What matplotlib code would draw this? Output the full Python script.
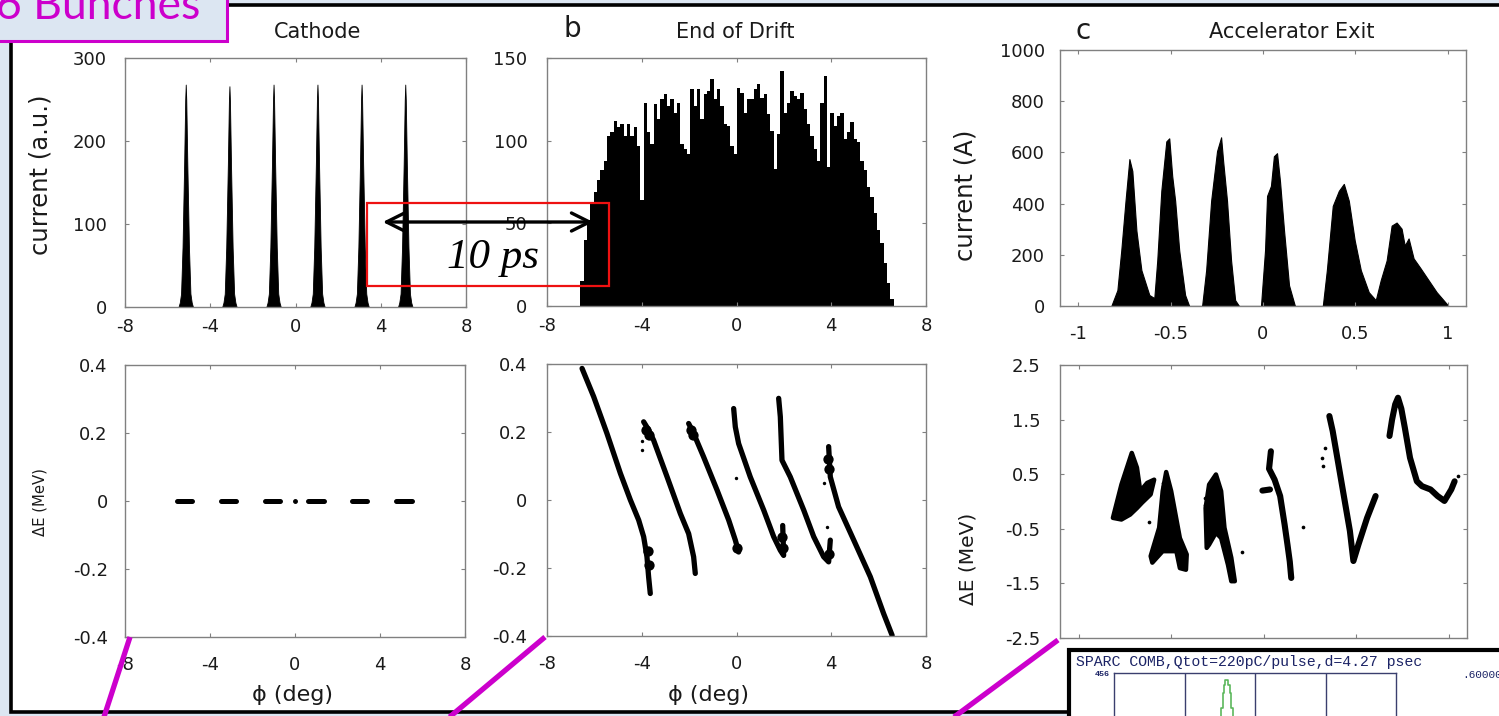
import numpy as np
import matplotlib
matplotlib.use("Agg")
import matplotlib.pyplot as plt
from matplotlib.patches import Rectangle, FancyArrowPatch
from matplotlib.lines import Line2D
from matplotlib.ticker import FuncFormatter

plt.rcParams['font.family'] = ['DejaVu Sans']
plt.rcParams['axes.unicode_minus'] = False

# ---- panel a: cathode ----
cathode_centers = [-5.15, -3.10, -1.03, 1.03, 3.10, 5.15]
cathode_peaks = [268, 266, 268, 268, 268, 268]
spike_offset = [-0.34, -0.28, -0.22, -0.15, -0.075, -0.025, 0.0, 0.025, 0.075, 0.15, 0.22, 0.28, 0.34]
spike_shape = [0.0, 0.02, 0.06, 0.27, 0.64, 0.93, 1.0, 0.93, 0.64, 0.27, 0.06, 0.02, 0.0]

dash_centers = [-5.19, -3.13, -1.05, 0.99, 3.05, 5.13]
dash_half = 0.36
dot_phi = [-0.01]

# ---- panel b: end of drift ----
drift_current = [15, 40, 52, 62, 69, 76, 82, 88, 103, 105,
                 112, 108, 110, 103, 110, 103, 108, 97, 64, 123,
                 105, 98, 122, 113, 125, 128, 121, 125, 117, 123,
                 98, 95, 92, 131, 121, 131, 113, 128, 130, 137,
                 125, 131, 121, 110, 109, 97, 92, 132, 129, 117,
                 125, 125, 131, 134, 126, 128, 116, 106, 83, 104,
                 142, 117, 123, 130, 127, 125, 129, 119, 110, 103,
                 95, 88, 123, 139, 84, 117, 109, 115, 117, 101,
                 105, 111, 101, 99, 88, 82, 72, 66, 56, 46,
                 38, 26, 14, 4]
drift_lo, drift_hi = -6.59, 6.64

streak_phi = [
    [-6.52, -6.03, -5.47, -4.90, -4.48, -4.13, -3.92, -3.78, -3.71, -3.64],
    [-3.92, -3.71, -3.50, -2.93, -2.37, -2.02, -1.81, -1.74],
    [-2.02, -1.81, -1.39, -0.82, -0.33, -0.05, 0.09],
    [-0.12, -0.05, 0.09, 0.58, 1.15, 1.57, 1.85, 1.99, 1.95],
    [1.78, 1.85, 1.92, 2.27, 2.84, 3.26, 3.68, 3.89, 3.96],
    [3.89, 3.96, 4.31, 4.95, 5.65, 6.21, 6.57],
]
streak_de = [
    [0.387, 0.304, 0.196, 0.078, 0.0, -0.059, -0.108, -0.167, -0.226, -0.275],
    [0.23, 0.206, 0.176, 0.068, -0.04, -0.099, -0.167, -0.216],
    [0.225, 0.196, 0.127, 0.029, -0.059, -0.118, -0.153],
    [0.269, 0.215, 0.166, 0.068, -0.03, -0.108, -0.148, -0.163, -0.075],
    [0.299, 0.245, 0.117, 0.068, -0.03, -0.108, -0.167, -0.182, -0.118],
    [0.157, 0.068, -0.02, -0.118, -0.226, -0.334, -0.398],
]
blob_phi = [-3.80, -3.70, -1.90, -1.85, 0.02, 1.95, 1.92, 3.92, 3.88, 3.90, -3.72, -3.68]
blob_de = [0.205, 0.19, 0.205, 0.19, -0.14, -0.14, -0.11, -0.16, 0.12, 0.09, -0.15, -0.19]
stray_b_phi = [-3.99, -3.99, -0.007, 3.82, 3.71]
stray_b_de = [0.174, 0.147, 0.065, -0.079, 0.05]

# ---- panel c: accelerator exit ----
exit_phi = [-0.822, -0.789, -0.768, -0.745, -0.724, -0.708, -0.686, -0.659, -0.616, -0.589,
            -0.573, -0.551, -0.524, -0.508, -0.492, -0.476, -0.454, -0.422, -0.400,
            -0.330, -0.308, -0.281, -0.249, -0.227, -0.216, -0.195, -0.173, -0.151, -0.130,
            -0.011, 0.011, 0.022, 0.043, 0.059, 0.076, 0.092, 0.114, 0.141, 0.173,
            0.324, 0.346, 0.378, 0.411, 0.438, 0.465, 0.497, 0.530, 0.573, 0.611,
            0.638, 0.670, 0.697, 0.724, 0.751, 0.768, 0.789, 0.816, 0.854, 0.897,
            0.941, 0.978, 1.005]
exit_current = [0, 62, 217, 411, 574, 527, 295, 140, 43, 31,
                178, 450, 643, 655, 508, 411, 217, 43, 0,
                0, 140, 411, 605, 659, 566, 411, 178, 23, 0,
                0, 217, 430, 469, 585, 597, 488, 295, 81, 0,
                0, 140, 391, 450, 477, 411, 256, 140, 54, 23,
                101, 178, 314, 326, 302, 236, 264, 186, 147, 101,
                54, 23, 0]

c1_phi = [-0.814, -0.768, -0.712, -0.684, -0.666, -0.629, -0.591, -0.610, -0.656, -0.684, -0.721, -0.768]
c1_de = [-0.30, 0.31, 0.89, 0.62, 0.19, 0.34, 0.40, 0.13, -0.02, -0.12, -0.24, -0.33]
c2_phi = [-0.526, -0.499, -0.452, -0.415, -0.419, -0.452, -0.471, -0.545, -0.601, -0.610, -0.564, -0.545]
c2_de = [0.54, 0.19, -0.67, -0.97, -1.25, -1.22, -0.91, -0.91, -1.12, -1.00, -0.48, 0.19]
c3_phi = [-0.257, -0.229, -0.211, -0.174, -0.155, -0.174, -0.192, -0.229, -0.257, -0.294, -0.307, -0.313, -0.294]
c3_de = [0.495, 0.19, -0.48, -1.03, -1.46, -1.46, -1.16, -0.67, -0.57, -0.79, -0.85, -0.12, 0.31]
c4_phi = [0.040, 0.030, 0.060, 0.090, 0.114, 0.130, 0.142, 0.150]
c4_de = [0.92, 0.60, 0.40, 0.10, -0.42, -0.80, -1.10, -1.40]
c4_tail_phi = [-0.006, 0.035]
c4_tail_de = [0.20, 0.22]
c5_phi = [0.356, 0.374, 0.402, 0.439, 0.467, 0.486, 0.513, 0.560, 0.606]
c5_de = [1.565, 1.29, 0.74, 0.01, -0.54, -1.09, -0.79, -0.30, 0.10]
c6_phi = [0.681, 0.695, 0.712, 0.727, 0.745, 0.764, 0.792, 0.829, 0.857, 0.903, 0.941, 0.978, 1.015, 1.033]
c6_de = [1.20, 1.50, 1.78, 1.90, 1.70, 1.35, 0.80, 0.37, 0.28, 0.22, 0.10, 0.01, 0.22, 0.37]
stray_c_phi = [-0.619, -0.545, -0.545, -0.318, -0.318, -0.118, 0.211, 0.318, 0.324, 0.331, 1.052]
stray_c_de = [-0.37, 0.34, 0.28, 0.07, -0.07, -0.93, -0.46, 0.80, 0.65, 0.98, 0.46]

# ---- inset (measured bunch profile) ----
inset_t = [1.50, 1.53, 1.55, 1.57, 1.59, 1.61, 1.63, 1.65, 1.67, 1.70]
inset_q = [370, 400, 424, 437, 445, 445, 437, 424, 400, 370]

W, H = 1499, 716


def fx(px):
    return px / W


def fy(py):
    return 1 - py / H


def box(l, t, r, b):
    return [fx(l), fy(b), (r - l) / W, (b - t) / H]


def style(ax, xpad, ypad):
    for s in ax.spines.values():
        s.set_color('#808080')
        s.set_linewidth(1.0)
    ax.tick_params(direction='in', length=3, width=0.8, color='#808080',
                   top=True, right=True, labelsize=13, labelcolor='#1a1a1a')
    ax.tick_params(axis='x', pad=xpad)
    ax.tick_params(axis='y', pad=ypad)
    fmt = FuncFormatter(lambda v, p: f'{v:g}')
    ax.xaxis.set_major_formatter(fmt)
    ax.yaxis.set_major_formatter(fmt)


fig = plt.figure(figsize=(W / 100, H / 100), dpi=100)
fig.patch.set_facecolor('#dce6f2')
fig.add_artist(Rectangle((fx(11), fy(712)), (1520 - 11) / W, (712 - 5) / H,
                         transform=fig.transFigure, facecolor='white',
                         edgecolor='black', lw=2.6, zorder=-1))

ax_a1 = fig.add_axes(box(125, 58, 466, 307))
ax_a2 = fig.add_axes(box(125, 365, 465, 637))
ax_b1 = fig.add_axes(box(547, 58, 926, 306))
ax_b2 = fig.add_axes(box(547, 364, 926, 636))
ax_c1 = fig.add_axes(box(1060, 50, 1466, 306))
ax_c2 = fig.add_axes(box(1060, 365, 1467, 638))

# a top: six cathode spikes
off = np.asarray(spike_offset)
shp = np.asarray(spike_shape)
for c, pk in zip(cathode_centers, cathode_peaks):
    ax_a1.fill_between(c + off, 0, pk * shp, color='black', lw=0.6, edgecolor='black')
ax_a1.set_xlim(-8, 8)
ax_a1.set_ylim(0, 300)
ax_a1.set_xticks([-8, -4, 0, 4, 8])
ax_a1.set_yticks([0, 100, 200, 300])
style(ax_a1, 8, 13)

# a bottom: flat phase space
for c in dash_centers:
    ax_a2.plot([c - dash_half, c + dash_half], [0, 0], color='black', lw=3.6, solid_capstyle='round')
ax_a2.plot(dot_phi, [0], 'o', color='black', ms=2.5)
ax_a2.set_xlim(-8, 8)
ax_a2.set_ylim(-0.4, 0.4)
ax_a2.set_xticks([-8, -4, 0, 4, 8])
ax_a2.set_yticks([-0.4, -0.2, 0, 0.2, 0.4])
style(ax_a2, 14, 12.5)

# b top: drift current histogram
edges = np.linspace(drift_lo, drift_hi, len(drift_current) + 1)
ax_b1.stairs(drift_current, edges, fill=True, color='black')
ax_b1.set_xlim(-8, 8)
ax_b1.set_ylim(0, 150)
ax_b1.set_xticks([-8, -4, 0, 4, 8])
ax_b1.set_yticks([0, 50, 100, 150])
style(ax_b1, 8, 14)

# b bottom: phase-space streaks
for ph, de in zip(streak_phi, streak_de):
    ax_b2.plot(ph, de, color='black', lw=3.8, solid_capstyle='round', solid_joinstyle='round')
ax_b2.scatter(blob_phi, blob_de, s=55, color='black', lw=0)
ax_b2.scatter(stray_b_phi, stray_b_de, s=6, color='black', lw=0)
ax_b2.set_xlim(-8, 8)
ax_b2.set_ylim(-0.4, 0.4)
ax_b2.set_xticks([-8, -4, 0, 4, 8])
ax_b2.set_yticks([-0.4, -0.2, 0, 0.2, 0.4])
style(ax_b2, 14, 14)

# c top: accelerator exit current
ax_c1.fill_between(exit_phi, 0, exit_current, color='black', lw=0.8, edgecolor='black')
ax_c1.set_xlim(-1.1, 1.1)
ax_c1.set_ylim(0, 1000)
ax_c1.set_xticks([-1, -0.5, 0, 0.5, 1])
ax_c1.set_yticks([0, 200, 400, 600, 800, 1000])
style(ax_c1, 14, 11)

# c bottom: accelerator exit phase space (x labels sit under the inset)
for ph, de in [(c1_phi, c1_de), (c2_phi, c2_de), (c3_phi, c3_de)]:
    ax_c2.fill(ph, de, color='black', lw=3.2, edgecolor='black', joinstyle='round')
for ph, de in [(c4_phi, c4_de), (c4_tail_phi, c4_tail_de), (c5_phi, c5_de), (c6_phi, c6_de)]:
    ax_c2.plot(ph, de, color='black', lw=4.4, solid_capstyle='round', solid_joinstyle='round')
ax_c2.scatter(stray_c_phi, stray_c_de, s=7, color='black', lw=0)
ax_c2.set_xlim(-1.1, 1.1)
ax_c2.set_ylim(-2.5, 2.5)
ax_c2.set_xticks([-1, -0.5, 0, 0.5, 1])
ax_c2.set_yticks([-2.5, -1.5, -0.5, 0.5, 1.5, 2.5])
style(ax_c2, 14, 14)
ax_c2.tick_params(axis='x', labelbottom=False)

# titles, panel letters and axis labels
txt = dict(color='#1a1a1a', ha='center', va='center')
fig.text(fx(318), fy(32), 'Cathode', fontsize=15, **txt)
fig.text(fx(735), fy(32), 'End of Drift', fontsize=15, **txt)
fig.text(fx(1292), fy(32), 'Accelerator Exit', fontsize=15, **txt)
fig.text(fx(572), fy(29), 'b', fontsize=20, **txt)
fig.text(fx(1083), fy(31), 'c', fontsize=20, **txt)
fig.text(fx(41), fy(175), 'current (a.u.)', fontsize=17.5, rotation=90, **txt)
fig.text(fx(40), fy(502), '\u0394E (MeV)', fontsize=10.7, rotation=90, **txt)
fig.text(fx(965), fy(195), 'current (A)', fontsize=17.5, rotation=90, **txt)
fig.text(fx(968), fy(559), '\u0394E (MeV)', fontsize=14.5, rotation=90, **txt)
fig.text(fx(293), fy(695), '\u03d5 (deg)', fontsize=16, **txt)
fig.text(fx(708), fy(695), '\u03d5 (deg)', fontsize=16, **txt)

# 10 ps annotation
fig.add_artist(Rectangle((fx(367), fy(286)), (609 - 367) / W, (286 - 203) / H,
                         transform=fig.transFigure, fill=False, edgecolor='#ee1111',
                         lw=1.6, zorder=8))
fig.add_artist(FancyArrowPatch((fx(380), fy(222)), (fx(596), fy(222)),
                               transform=fig.transFigure,
                               arrowstyle='<->,head_length=13,head_width=6.5',
                               mutation_scale=1, lw=2.4, color='black', zorder=8))
fig.text(fx(493), fy(268), '10 ps', family='Liberation Serif', style='italic',
         fontsize=31, ha='center', va='baseline', zorder=8)

# inset with measured profile
navy = '#1c2466'
fig.add_artist(Rectangle((fx(1069), fy(740)), (1530 - 1069) / W, (740 - 650) / H,
                         transform=fig.transFigure, facecolor='white',
                         edgecolor='black', lw=3, zorder=5))
ax_in = fig.add_axes([fx(1114), fy(960), 282 / W, 287 / H], zorder=6)
ax_in.set_facecolor('none')
ax_in.step(inset_t, inset_q, where='mid', color='#5cb85c', lw=1.2)
for xv in [1, 2, 3]:
    ax_in.axvline(xv, color='#3a3f6e', lw=1)
ax_in.set_xlim(0, 4)
ax_in.set_ylim(0, 456)
ax_in.set_xticks([])
ax_in.set_yticks([])
for s in ax_in.spines.values():
    s.set_color('#3a3f6e')
    s.set_linewidth(1)
fig.text(fx(1076), fy(666), 'SPARC COMB,Qtot=220pC/pulse,d=4.27 psec',
         family='Liberation Mono', fontsize=10.7, color=navy, va='baseline', zorder=7)
fig.text(fx(1110), fy(674), '456', family='Liberation Mono', fontsize=6,
         weight='bold', color=navy, ha='right', va='center', zorder=7)
fig.text(fx(1462), fy(675), '.60000', family='Liberation Mono', fontsize=8,
         color=navy, ha='left', va='center', zorder=7)

# magenta zoom lines
mag = '#cc00cc'
for (x0, y0), (x1, y1) in [((130, 637), (103, 720)), ((545, 637), (446, 720)), ((1058, 640), (950, 720))]:
    fig.add_artist(Line2D([fx(x0), fx(x1)], [fy(y0), fy(y1)], transform=fig.transFigure,
                          color=mag, lw=3.8, solid_capstyle='butt', zorder=7))

# title box
fig.add_artist(Rectangle((fx(-20), fy(41)), (227 + 20) / W, (41 + 20) / H,
                         transform=fig.transFigure, facecolor='#dce6f2',
                         edgecolor=mag, lw=2.2, zorder=9))
fig.text(fx(200), fy(19), '6 Bunches', family='Lato', fontsize=32, color=mag,
         ha='right', va='baseline', zorder=10)

fig.savefig('out.png', dpi=100, facecolor=fig.get_facecolor())
